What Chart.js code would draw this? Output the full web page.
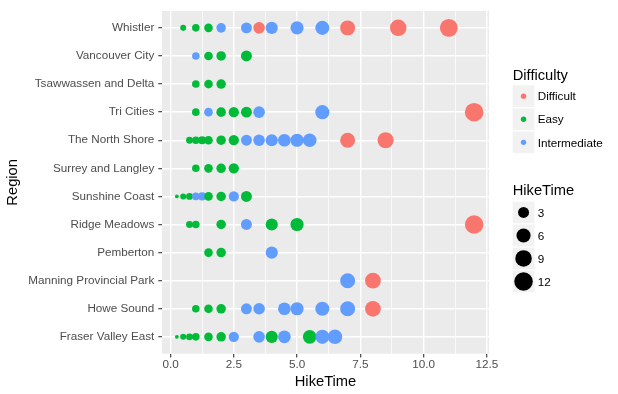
<!DOCTYPE html>
<html>
<head>
<meta charset="utf-8">
<script src="https://cdn.jsdelivr.net/npm/chart.js@4/dist/chart.umd.min.js"></script>
<style>
  html, body { margin: 0; padding: 0; background: #ffffff; }
  canvas { display: block; }
</style>
</head>
<body>
<canvas id="c" width="618" height="394"></canvas>
<script>
// ---------------- data ----------------
const regions = [
  "Fraser Valley East", "Howe Sound", "Manning Provincial Park", "Pemberton",
  "Ridge Meadows", "Sunshine Coast", "Surrey and Langley", "The North Shore",
  "Tri Cities", "Tsawwassen and Delta", "Vancouver City", "Whistler"
];
const xTickLabels = [0, 2.5, 5, 7.5, 10, 12.5];
const xMinorTicks = [1.25, 3.75, 6.25, 8.75, 11.25];
const difficultyLevels = ["Difficult", "Easy", "Intermediate"];
const sizeLegendValues = [3, 6, 9, 12];

const difficultHikes = [
  ["Whistler", [3.5, 7, 9, 11]],
  ["Tri Cities", [12]],
  ["The North Shore", [7, 8.5]],
  ["Ridge Meadows", [12]],
  ["Manning Provincial Park", [8]],
  ["Howe Sound", [8]]
];
const easyHikes = [
  ["Whistler", [0.5, 1, 1.5]],
  ["Vancouver City", [1.5, 2, 3]],
  ["Tsawwassen and Delta", [1, 1.5, 2]],
  ["Tri Cities", [1, 2, 2.5, 3]],
  ["The North Shore", [0.75, 1, 1.25, 1.5, 2, 2.5]],
  ["Surrey and Langley", [1, 1.5, 2, 2.5]],
  ["Sunshine Coast", [0.25, 0.5, 0.75, 1.5, 2, 3]],
  ["Ridge Meadows", [0.75, 1, 2, 4, 5]],
  ["Pemberton", [1.5, 2]],
  ["Howe Sound", [1, 1.5, 2]],
  ["Fraser Valley East", [0.25, 0.5, 0.75, 1, 1.5, 2, 4, 5.5]]
];
const intermediateHikes = [
  ["Whistler", [2, 3, 4, 5, 6]],
  ["Vancouver City", [1]],
  ["Tri Cities", [1.5, 3.5, 6]],
  ["The North Shore", [3, 3.5, 4, 4.5, 5, 5.5]],
  ["Sunshine Coast", [1, 1.25, 2.5]],
  ["Ridge Meadows", [3]],
  ["Pemberton", [4]],
  ["Manning Provincial Park", [7]],
  ["Howe Sound", [3, 3.5, 4.5, 5, 6, 7]],
  ["Fraser Valley East", [2.5, 3.5, 4.5, 6, 6.5]]
];

// ---------------- styling ----------------
const difficultyColors = { Difficult: "#F8766D", Easy: "#00BA38", Intermediate: "#619CFF" };
const FONT = "'Liberation Sans', Arial, Helvetica, sans-serif";

const points = [];
function addHikes(list, level) {
  list.forEach(([region, times]) => {
    times.forEach(t => points.push({ x: t, y: regions.indexOf(region) + 1, d: level }));
  });
}
addHikes(difficultHikes, "Difficult");
addHikes(easyHikes, "Easy");
addHikes(intermediateHikes, "Intermediate");
points.sort((a, b) => a.x - b.x);

const allTimes = points.map(p => p.x);
const tMin = Math.min(...allTimes), tMax = Math.max(...allTimes);
function ggSize(t) { return 1 + 5 * Math.sqrt((t - tMin) / (tMax - tMin)); }
function radiusFor(t) { return 1.027 * (ggSize(t) * 2.845 + 0.945) / 2; }

const xPad = (tMax - tMin) * 0.05;

const panelBg = {
  id: "panelBg",
  beforeDraw(chart) {
    const { ctx, chartArea: a } = chart;
    ctx.save();
    ctx.fillStyle = "#EBEBEB";
    ctx.fillRect(a.left, a.top, a.right - a.left, a.bottom - a.top);
    ctx.restore();
  }
};

const ggLegend = {
  id: "ggLegend",
  afterDraw(chart) {
    const ctx = chart.ctx;
    const lx = 512.7, kw = 21.7, step = 23.1, cx = lx + kw / 2, tx = 537.7;
    ctx.save();
    ctx.fillStyle = "#000";
    ctx.font = "14.7px " + FONT;
    ctx.textAlign = "left";
    ctx.textBaseline = "alphabetic";
    ctx.fillText("Difficulty", lx, 79.5);
    let top = 85.3;
    difficultyLevels.forEach((lvl, i) => {
      const y = top + i * step;
      ctx.fillStyle = "#F2F2F2";
      ctx.fillRect(lx, y, kw, kw);
      ctx.beginPath();
      ctx.arc(cx, y + kw / 2, 2.7, 0, Math.PI * 2);
      ctx.fillStyle = difficultyColors[lvl];
      ctx.fill();
      ctx.fillStyle = "#000";
      ctx.font = "11.7px " + FONT;
      ctx.fillText(lvl, tx, y + kw / 2 + 4.2);
    });
    ctx.font = "14.7px " + FONT;
    ctx.fillStyle = "#000";
    ctx.fillText("HikeTime", lx, 194.8);
    top = 201.6;
    const step2 = 23.0;
    sizeLegendValues.forEach((v, i) => {
      const y = top + i * step2;
      ctx.fillStyle = "#F2F2F2";
      ctx.fillRect(lx, y, kw, kw);
      ctx.beginPath();
      ctx.arc(cx, y + kw / 2, radiusFor(v), 0, Math.PI * 2);
      ctx.fillStyle = "#000";
      ctx.fill();
      ctx.font = "11.7px " + FONT;
      ctx.fillText(String(v), tx, y + kw / 2 + 4.2);
    });
    ctx.restore();
  }
};

const isMajorX = v => xTickLabels.includes(v);

new Chart(document.getElementById("c"), {
  type: "scatter",
  data: {
    datasets: [{
      data: points,
      pointRadius: ctx => radiusFor(ctx.raw.x),
      pointBackgroundColor: ctx => difficultyColors[ctx.raw.d],
      pointBorderWidth: 0,
      pointHoverRadius: ctx => radiusFor(ctx.raw.x)
    }]
  },
  plugins: [panelBg, ggLegend],
  options: {
    responsive: false,
    animation: false,
    devicePixelRatio: 1,
    events: [],
    layout: { padding: { left: 0, top: 7, right: 129, bottom: 0 } },
    plugins: { legend: { display: false }, tooltip: { enabled: false } },
    scales: {
      x: {
        type: "linear",
        min: tMin - xPad,
        max: tMax + xPad,
        afterBuildTicks: s => {
          s.ticks = [...xTickLabels, ...xMinorTicks].sort((a, b) => a - b).map(v => ({ value: v }));
        },
        afterFit: s => { s.height = 40.3; },
        border: { display: false },
        grid: {
          color: "#FFFFFF",
          lineWidth: c => (c.tick && isMajorX(c.tick.value)) ? 1.4 : 0.7,
          tickColor: c => (c.tick && isMajorX(c.tick.value)) ? "#333333" : "rgba(0,0,0,0)",
          tickLength: 3.7,
          tickWidth: 1.1
        },
        ticks: {
          color: "#4D4D4D",
          font: { family: FONT, size: 11.7 },
          padding: 0,
          autoSkip: false,
          maxRotation: 0,
          callback: v => isMajorX(v) ? v.toFixed(1) : ""
        },
        title: {
          display: true,
          text: "HikeTime",
          color: "#000",
          font: { family: FONT, size: 14.7 },
          padding: { top: 0, bottom: 3.2 }
        }
      },
      y: {
        type: "linear",
        min: 0.4,
        max: regions.length + 0.6,
        afterBuildTicks: s => { s.ticks = regions.map((_, i) => ({ value: i + 1 })); },
        afterFit: s => { s.width = 162; },
        border: { display: false },
        grid: {
          color: "#FFFFFF",
          lineWidth: 1.4,
          tickColor: "#333333",
          tickLength: 3.7,
          tickWidth: 1.1
        },
        ticks: {
          color: "#4D4D4D",
          font: { family: FONT, size: 11.7 },
          padding: 4,
          autoSkip: false,
          callback: v => regions[Math.round(v) - 1] || ""
        },
        title: {
          display: true,
          text: "Region",
          color: "#000",
          font: { family: FONT, size: 14.7 },
          padding: { top: 4.5, bottom: 0 }
        }
      }
    }
  }
});
</script>
</body>
</html>
